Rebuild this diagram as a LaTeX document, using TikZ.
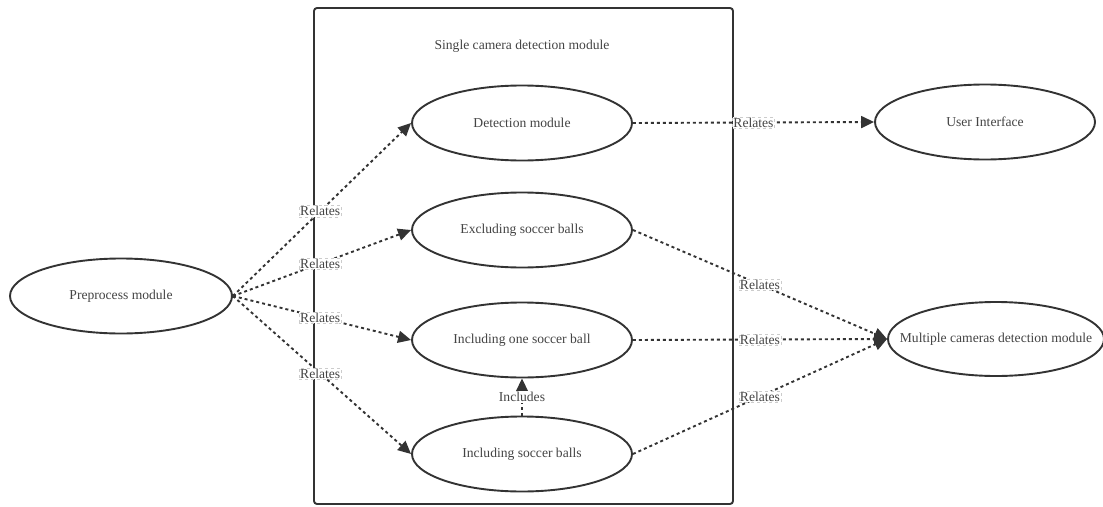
\documentclass[tikz,border=0pt]{standalone}
\usepackage{fontspec}
\setmainfont{Liberation Serif}
\usetikzlibrary{shapes.geometric,arrows.meta}
\definecolor{ink}{HTML}{333333}
\definecolor{txt}{HTML}{444444}
\definecolor{lblborder}{HTML}{CCCCCC}
\tikzset{
  uc/.style={ellipse, draw=ink, line width=1.9pt, fill=white, minimum width=220pt, minimum height=75pt, inner xsep=-25pt, inner ysep=0pt, text=txt, font=\fontsize{13.6}{16}\selectfont},
  rel/.style={draw=ink, line width=1.9pt, dash pattern=on 3pt off 3pt, -{Triangle[length=13pt,width=12pt]}},
  lbl/.style={fill=white, draw=lblborder, line width=0.5pt, inner sep=0.8pt, text=txt, font=\fontsize{13.6}{16}\selectfont},
  plainlbl/.style={fill=white, inner sep=1pt, text=txt, font=\fontsize{13.6}{16}\selectfont},
}
\begin{document}
\begin{tikzpicture}[x=1pt,y=-1pt]
\useasboundingbox (0,0) rectangle (1103,506);
\draw[ink, line width=1.9pt, rounded corners=3pt] (314,8) rectangle (733,504);
\node[text=txt, font=\fontsize{13.6}{16}\selectfont] (title) at (522,46) {Single camera detection module};

\node[uc, minimum width=222pt] (pre) at (121,296) {Preprocess module};
\node[uc] (det) at (522,123) {Detection module};
\node[uc] (exc) at (522,230) {Excluding soccer balls};
\node[uc] (one) at (522,340) {Including one soccer ball};
\node[uc] (inc) at (522,454) {Including soccer balls};
\node[uc] (ui) at (985,122) {User Interface};
\node[uc, minimum width=216pt, minimum height=74pt] (mul) at (996,339) {Multiple cameras detection module};

\draw[rel] (pre.east) -- node[lbl, pos=0.49] {Relates} (det.west);
\draw[rel] (pre.east) -- node[lbl, pos=0.49] {Relates} (exc.west);
\draw[rel] (pre.east) -- node[lbl, pos=0.49] {Relates} (one.west);
\draw[rel] (pre.east) -- node[lbl, pos=0.49] {Relates} (inc.west);
\fill[ink] (pre.east) circle (2.2pt);

\draw[rel] (det.east) -- node[lbl] {Relates} (ui.west);
\draw[rel] (exc.east) -- node[lbl] {Relates} (mul.west);
\draw[rel] (one.east) -- node[lbl] {Relates} (mul.west);
\draw[rel] (inc.east) -- node[lbl] {Relates} (mul.west);

\draw[rel] (inc.north) -- node[plainlbl] {Includes} (one.south);
\end{tikzpicture}
\end{document}
